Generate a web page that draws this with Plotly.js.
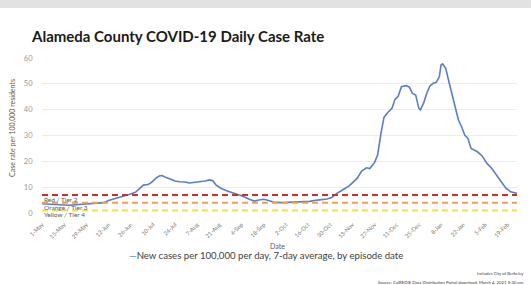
<!DOCTYPE html>
<html>
<head>
<meta charset="utf-8">
<script src="https://cdn.plot.ly/plotly-3.0.1.min.js"></script>
<style>
html,body{margin:0;padding:0;background:#fff;}
#chart{width:531px;height:285px;}
</style>
</head>
<body>
<div id="chart"></div>
<script>
// Dates of the 7-day average series
const dates = [
"2020-05-01","2020-05-06","2020-05-12","2020-05-18","2020-05-25","2020-05-31",
"2020-06-06","2020-06-09","2020-06-12","2020-06-18","2020-06-22","2020-06-25","2020-06-29",
"2020-07-02","2020-07-04","2020-07-07","2020-07-09","2020-07-12","2020-07-14","2020-07-16",
"2020-07-18","2020-07-21","2020-07-24","2020-07-27","2020-07-30","2020-08-02","2020-08-05",
"2020-08-08","2020-08-12","2020-08-15","2020-08-17","2020-08-19","2020-08-22","2020-08-26",
"2020-08-31","2020-09-04","2020-09-09","2020-09-12","2020-09-15","2020-09-18","2020-09-20",
"2020-09-25","2020-09-30","2020-10-06","2020-10-13","2020-10-17","2020-10-22","2020-10-28",
"2020-10-31","2020-11-03","2020-11-07","2020-11-11","2020-11-16","2020-11-19","2020-11-22",
"2020-11-24","2020-11-27","2020-11-29","2020-12-01","2020-12-03","2020-12-05","2020-12-08",
"2020-12-10","2020-12-12","2020-12-14","2020-12-17","2020-12-19","2020-12-21","2020-12-23",
"2020-12-25","2020-12-26","2020-12-28","2020-12-30","2021-01-01","2021-01-03","2021-01-05",
"2021-01-07","2021-01-08","2021-01-09","2021-01-11","2021-01-13","2021-01-15","2021-01-17",
"2021-01-19","2021-01-21","2021-01-23","2021-01-25","2021-01-27","2021-01-31","2021-02-03",
"2021-02-06","2021-02-09","2021-02-12","2021-02-15","2021-02-18","2021-02-21","2021-02-25"
];
// New cases per 100,000 per day, 7-day average
const caseRate = [
3.6,3.3,3.2,3.0,3.3,3.5,
3.6,4.0,4.8,5.8,6.5,7.2,8.0,
9.5,10.8,11.0,11.8,13.5,14.3,14.5,
13.8,13.2,12.4,12.1,12.0,11.6,11.8,
12.0,12.4,12.8,12.4,10.8,9.6,8.5,
7.6,6.7,5.3,4.6,5.0,5.3,5.0,
4.1,4.0,4.1,4.4,4.5,5.0,5.4,
6.0,7.5,9.0,10.5,13.4,16.3,17.5,
17.2,19.5,22.5,30.5,37.0,38.6,40.5,
44.0,45.3,48.9,49.3,48.7,46.3,45.7,
40.5,39.9,42.5,46.3,49.2,50.2,50.6,
52.8,57.3,57.7,56.0,50.8,45.7,41.2,
36.0,33.4,30.2,28.9,25.0,23.7,22.1,
19.2,17.3,14.7,12.1,9.6,8.2,7.6
];
// Tier thresholds
const tierNames = ["Red / Tier 2","Orange / Tier 3","Yellow / Tier 4"];
const tierValues = [7,4,1];
const tierColors = ["#c8302c","#f0a04a","#f2e14c"];
// X tick labels
const tickDates = ["2020-05-01","2020-05-15","2020-05-29","2020-06-12","2020-06-26","2020-07-10",
"2020-07-24","2020-08-07","2020-08-21","2020-09-04","2020-09-18","2020-10-02","2020-10-16",
"2020-10-30","2020-11-13","2020-11-27","2020-12-11","2020-12-25","2021-01-08","2021-01-22",
"2021-02-05","2021-02-19"];
const tickText = ["1-May","15-May","29-May","12-Jun","26-Jun","10-Jul","24-Jul","7-Aug","21-Aug",
"4-Sep","18-Sep","2-Oct","16-Oct","30-Oct","13-Nov","27-Nov","11-Dec","25-Dec","8-Jan","22-Jan",
"5-Feb","19-Feb"];
const yTicks = [0,10,20,30,40,50,60];

const FONT = "Lato, 'Open Sans', sans-serif";
const PLOT_L = 42, PLOT_W = 475, PLOT_B = 213, PLOT_H = 155;
const px = x => (x - PLOT_L) / PLOT_W;   // pixel -> paper x (for text placement)
const py = y => (PLOT_B - y) / PLOT_H;   // pixel -> paper y (for text placement)

const traces = [{
  type:"scatter", mode:"lines", x:dates, y:caseRate,
  line:{color:"#5a7ec6", width:1.6}, hoverinfo:"skip", showlegend:false
}];

const shapes = [{
  type:"rect", xref:"paper", yref:"paper", x0:-0.1, x1:1.05, y0:py(8), y1:py(-2),
  fillcolor:"#e2e2e2", line:{width:0}, layer:"below"
}];
tierValues.forEach((v,i)=>{
  shapes.push({type:"line", xref:"paper", yref:"y", x0:0, x1:1, y0:v, y1:v,
    line:{color:tierColors[i], width:2, dash:"6px,4px"}});
});

const tierLabelPx = [199.5, 207, 214.5];
const annotations = tierNames.map((t,i)=>({
  text:t, xref:"paper", yref:"paper", x:0.003, y:py(tierLabelPx[i]), xanchor:"left", yanchor:"middle",
  showarrow:false, borderpad:0, font:{family:FONT, size:6.5, color:"#595959"}
}));
annotations.push({
  text:'<span style="color:#5a7ec6">—</span>New cases per 100,000 per day, 7-day average, by episode date',
  xref:"paper", yref:"paper", x:px(127), y:py(255), xanchor:"left", yanchor:"middle",
  showarrow:false, font:{family:FONT, size:9.6, color:"#404040"}
});
annotations.push({
  text:"Includes City of Berkeley", xref:"paper", yref:"paper",
  x:px(526), y:py(273), xanchor:"right", yanchor:"middle",
  showarrow:false, font:{family:FONT, size:4.3, color:"#404040"}
});
annotations.push({
  text:"Source: CalREDIE Data Distribution Portal download, March 4, 2021 9:30 am.", xref:"paper", yref:"paper",
  x:px(526), y:py(282), xanchor:"right", yanchor:"middle",
  showarrow:false, font:{family:FONT, size:4.3, color:"#404040"}
});
annotations.push({
  text:"Date", xref:"paper", yref:"paper", x:px(277), y:py(245.5),
  xanchor:"center", yanchor:"middle", showarrow:false, font:{family:FONT, size:7, color:"#595959"}
});
annotations.push({
  text:"Case rate per 100,000 residents", xref:"paper", yref:"paper", x:px(12), y:py(128),
  xanchor:"center", yanchor:"middle", textangle:-90, showarrow:false, font:{family:FONT, size:7, color:"#595959"}
});

const layout = {
  width:531, height:285,
  margin:{l:PLOT_L, r:531-PLOT_L-PLOT_W, t:PLOT_B-PLOT_H, b:285-PLOT_B, pad:0},
  paper_bgcolor:"#ffffff", plot_bgcolor:"#ffffff",
  font:{family:FONT},
  title:{text:"<b>Alameda County COVID-19 Daily Case Rate</b>", xref:"container", yref:"container",
    x:32/531, xanchor:"left", y:1-37/285, yanchor:"middle", font:{family:FONT, size:15, color:"#1a1a1a"}},
  xaxis:{type:"date", range:["2020-05-01","2021-02-25"], tickmode:"array", tickvals:tickDates, ticktext:tickText,
    tickangle:-45, tickfont:{family:FONT, size:5.8, color:"#7a7a7a"}, showgrid:false, zeroline:false,
    showline:false, ticks:"outside", ticklen:5, tickcolor:"rgba(0,0,0,0)", fixedrange:true},
  yaxis:{range:[0,60], tickmode:"array", tickvals:yTicks, tickfont:{family:FONT, size:7.5, color:"#999999"},
    showgrid:true, gridcolor:"#ececec", gridwidth:1, zeroline:false, showline:false,
    ticks:"outside", ticklen:7, tickcolor:"rgba(0,0,0,0)", fixedrange:true},
  shapes:shapes, annotations:annotations, showlegend:false
};

Plotly.newPlot("chart", traces, layout, {displayModeBar:false, staticPlot:true});
</script>
</body>
</html>
